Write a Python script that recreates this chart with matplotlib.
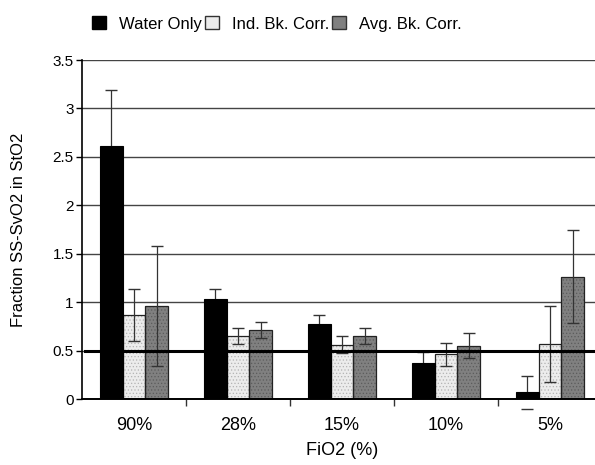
import numpy as np
import matplotlib
matplotlib.use('Agg')
import matplotlib.pyplot as plt
from matplotlib.patches import Patch

plt.rcParams['font.family'] = ['Liberation Sans', 'DejaVu Sans']
plt.rcParams['hatch.linewidth'] = 0.5

# Daten
kategorien = ["90%", "28%", "15%", "10%", "5%"]
water_only = [2.61, 1.03, 0.77, 0.37, 0.07]
water_err = [0.58, 0.11, 0.10, 0.12, 0.17]
ind_bk = [0.87, 0.65, 0.56, 0.46, 0.57]
ind_err = [0.27, 0.08, 0.09, 0.12, 0.39]
avg_bk = [0.96, 0.71, 0.65, 0.55, 1.26]
avg_err = [0.62, 0.08, 0.08, 0.13, 0.48]
serien = ["Water Only", "Ind. Bk. Corr.", "Avg. Bk. Corr."]

fig = plt.figure(figsize=(5.95, 4.65), dpi=100)
ax = fig.add_axes([82/595, 66/465, 520/595, 339/465])

x = np.arange(len(kategorien))
w = 0.22

# Füllfarbe, Punktfarbe
styles = [
    ("black", None),
    ("#ececec", "#b4b4b4"),
    ("#808080", "#5c5c5c"),
]
werte = [water_only, ind_bk, avg_bk]
fehler = [water_err, ind_err, avg_err]

for i in range(3):
    pos = x + (i - 1) * w
    fc, hc = styles[i]
    if hc:
        ax.bar(pos, werte[i], w, color=fc, edgecolor=hc, hatch=".....",
               linewidth=0, zorder=2)
        ax.bar(pos, werte[i], w, facecolor="none", edgecolor="#222222",
               linewidth=0.9, zorder=2.1)
    else:
        ax.bar(pos, werte[i], w, color=fc, edgecolor="black", linewidth=0.8, zorder=2.2)
    z = 1.5 if i == 0 else 3
    eb = ax.errorbar(pos, werte[i], yerr=fehler[i], fmt="none", ecolor="#333333",
                     elinewidth=0.9, capsize=4, capthick=1.0, zorder=z)
    for cl in eb[1]:
        cl.set_clip_on(False)

# dicke Linie bei 0.5
ax.axhline(0.5, xmin=0.006, xmax=1, color="black", linewidth=2.2, zorder=4)

ax.set_xlim(-0.5, len(kategorien) - 0.5)
ax.set_ylim(0, 3.5)
ax.set_yticks(np.arange(0, 3.51, 0.5))
ax.set_yticklabels(["0", "0.5", "1", "1.5", "2", "2.5", "3", "3.5"], fontsize=11)
ax.yaxis.grid(True, color="#444444", linewidth=1.0, zorder=0)
ax.set_axisbelow(True)

ax.set_xticks(x)
ax.set_xticklabels(kategorien, fontsize=13)
ax.tick_params(axis="x", which="major", length=0, pad=13)
ax.set_xticks(np.arange(0.5, len(kategorien) - 0.5, 1), minor=True)
ax.tick_params(axis="x", which="minor", length=5, width=1, color="#333333")
ax.tick_params(axis="y", length=4, width=1, pad=2)

for s in ["top", "right"]:
    ax.spines[s].set_visible(False)
ax.spines["left"].set_linewidth(1.2)
ax.spines["bottom"].set_linewidth(1.4)

ax.set_xlabel("FiO2 (%)", fontsize=13, labelpad=6)
ax.set_ylabel("Fraction SS-SvO2 in StO2", fontsize=12, labelpad=19)

handles = [
    Patch(facecolor="black", edgecolor="black"),
    Patch(facecolor="#ececec", edgecolor="#333333"),
    Patch(facecolor="#808080", edgecolor="#333333"),
]
fig.legend(handles, serien, loc="center", bbox_to_anchor=(277/595, 1 - 24/465),
           ncol=3, frameon=False, fontsize=12, handlelength=0.8, handleheight=0.8,
           handletextpad=0.8, columnspacing=0.2)

plt.savefig("out.png", dpi=100)
